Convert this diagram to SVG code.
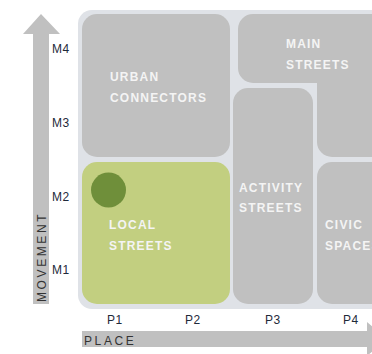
<svg xmlns="http://www.w3.org/2000/svg" width="372" height="354" viewBox="0 0 372 354">
  <style>
    .box { fill: #c0c0c0; }
    .lbl { font-family: "Liberation Sans", Arial, sans-serif; font-weight: bold; font-size: 12px; fill: #f4f4f4; letter-spacing: 1.2px; }
    .ax { font-family: "Liberation Sans", Arial, sans-serif; font-size: 12px; fill: #1e2a3a; letter-spacing: 0.6px; }
    .axt { font-family: "Liberation Sans", Arial, sans-serif; font-size: 12px; fill: #333; letter-spacing: 2.6px; }
    .arrow { fill: #c0c0c0; }
  </style>
  <rect width="372" height="354" fill="#ffffff"/>
  <g id="panel">
    <rect x="78" y="10" width="310" height="299" rx="14" fill="#dfe2e7"/>
  </g>
  <g id="urban-connectors">
    <rect class="box" x="82" y="14" width="148" height="143" rx="15"/>
    <text class="lbl" x="110" y="81">URBAN</text>
    <text class="lbl" x="110" y="102">CONNECTORS</text>
  </g>
  <g id="main-streets">
    <path class="box" d="M253,14 H390 V157 H332 A15,15 0 0 1 317,142 V83 H253 A15,15 0 0 1 238,68 V29 A15,15 0 0 1 253,14 Z"/>
    <text class="lbl" x="286" y="48">MAIN</text>
    <text class="lbl" x="286" y="69">STREETS</text>
  </g>
  <g id="local-streets">
    <rect x="82" y="162" width="148" height="142" rx="15" fill="#c2cf80"/>
    <circle cx="108.5" cy="190" r="17.5" fill="#6f8f3a"/>
    <text class="lbl" x="109" y="229">LOCAL</text>
    <text class="lbl" x="109" y="250">STREETS</text>
  </g>
  <g id="activity-streets">
    <rect class="box" x="233" y="88" width="80" height="216" rx="15"/>
    <text class="lbl" x="239" y="192">ACTIVITY</text>
    <text class="lbl" x="239" y="212">STREETS</text>
  </g>
  <g id="civic-spaces">
    <rect class="box" x="317" y="162" width="80" height="142" rx="15"/>
    <text class="lbl" x="325" y="229">CIVIC</text>
    <text class="lbl" x="325" y="250">SPACES</text>
  </g>
  <g id="connectors">
    <g id="movement-axis">
      <polygon class="arrow" points="33,304 33,34 23,34 41,14 60,34 49,34 49,304"/>
      <text class="axt" transform="translate(46,302) rotate(-90)">MOVEMENT</text>
    </g>
    <g id="place-axis">
      <polygon class="arrow" points="82,331 367,331 367,322 387,339 367,356 367,347 82,347"/>
      <text class="axt" x="84" y="345">PLACE</text>
    </g>
  </g>
  <g id="axis-labels">
    <text class="ax" x="52" y="53">M4</text>
    <text class="ax" x="52" y="127">M3</text>
    <text class="ax" x="52" y="201">M2</text>
    <text class="ax" x="52" y="274">M1</text>
    <text class="ax" x="107" y="324">P1</text>
    <text class="ax" x="185" y="324">P2</text>
    <text class="ax" x="265" y="324">P3</text>
    <text class="ax" x="343" y="324">P4</text>
  </g>
</svg>
